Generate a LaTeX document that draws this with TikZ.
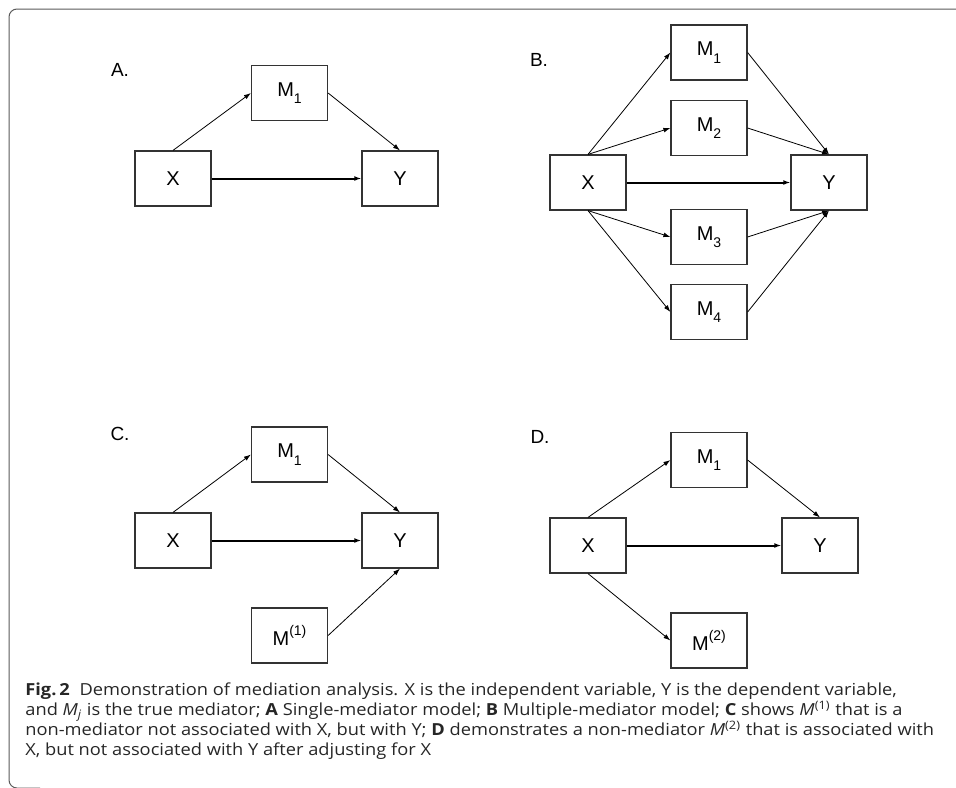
\documentclass[tikz,border=0pt]{standalone}
\usepackage{fontspec}
\setmainfont{Liberation Sans}
\newfontfamily\capfont[FakeStretch=1.1]{Open Sans}
\usetikzlibrary{arrows.meta}

\newcommand{\lowidx}[1]{\raisebox{-3.8pt}{\fontsize{7}{8}\selectfont #1}}
\newcommand{\highidx}[1]{\raisebox{5pt}{\fontsize{7}{8}\selectfont #1}}

\tikzset{
  varbox/.style={draw=black!80, line width=0.6pt, minimum width=38pt, minimum height=27.5pt, inner sep=0pt, font=\fontsize{10}{12}\selectfont},
  panel/.style={inner sep=0pt, font=\fontsize{9.5}{11}\selectfont},
  arr/.style={-{Latex[length=3.5pt,width=2.4pt]}, line width=0.4pt},
  direct/.style={-{Latex[length=3.5pt,width=2.4pt]}, line width=1pt},
  capline/.style={anchor=base west, inner sep=0pt, text=black!85, font=\capfont\fontsize{8.3}{10}\selectfont}
}

\begin{document}
\begin{tikzpicture}[x=0.5pt,y=-0.5pt]
\useasboundingbox (0,0) rectangle (956,787);

% frame
\draw[black!65, line width=0.5pt, rounded corners=4pt] (970,9) -- (9,9) -- (9,788) -- (40,788);

% A. single mediator
\node[panel] (labA) at (120,70) {A.};
\node[varbox] (aM) at (289.5,93) {M\lowidx{1}};
\node[varbox] (aX) at (173,178.5) {X};
\node[varbox] (aY) at (400,178.5) {Y};
\draw[arr] (aX.north) -- (aM.west);
\draw[arr] (aM.east) -- (aY.north);
\draw[direct] (aX) -- (aY);

% B. multiple mediators
\node[panel] (labB) at (539,60) {B.};
\node[varbox] (bX) at (588,182.5) {X};
\node[varbox] (bY) at (829,182.5) {Y};
\foreach \i/\y in {1/52.5,2/128,3/237,4/312}
  \node[varbox] (bM\i) at (709,\y) {M\lowidx{\i}};
\foreach \i in {1,2}{
  \draw[arr] (bX.north) -- (bM\i.west);
  \draw[arr] (bM\i.east) -- (bY.north);}
\foreach \i in {3,4}{
  \draw[arr] (bX.south) -- (bM\i.west);
  \draw[arr] (bM\i.east) -- (bY.south);}
\draw[direct] (bX) -- (bY);

% C. non-mediator on Y
\node[panel] (labC) at (120,434) {C.};
\node[varbox] (cM) at (289.5,454.5) {M\lowidx{1}};
\node[varbox] (cX) at (173,540.5) {X};
\node[varbox] (cY) at (400,540.5) {Y};
\node[varbox] (cN) at (289.5,635.5) {M\highidx{(1)}};
\draw[arr] (cX.north) -- (cM.west);
\draw[arr] (cM.east) -- (cY.north);
\draw[arr] (cN.east) -- (cY.south);
\draw[direct] (cX) -- (cY);

% D. non-mediator on X
\node[panel] (labD) at (540,437) {D.};
\node[varbox] (dM) at (709,460) {M\lowidx{1}};
\node[varbox] (dX) at (588,545.5) {X};
\node[varbox] (dY) at (820,545.5) {Y};
\node[varbox] (dN) at (709,640.5) {M\highidx{(2)}};
\draw[arr] (dX.north) -- (dM.west);
\draw[arr] (dM.east) -- (dY.north);
\draw[arr] (dX.south) -- (dN.west);
\draw[direct] (dX) -- (dY);

% caption
\node[capline] (cap1) at (25,695) {\textbf{Fig.\,2}\hspace{0.6em}Demonstration of mediation analysis. X is the independent variable, Y is the dependent variable,};
\node[capline] (cap2) at (25,715) {and \textit{M\textsubscript{j}} is the true mediator; \textbf{A} Single-mediator model; \textbf{B} Multiple-mediator model; \textbf{C} shows \textit{M}\textsuperscript{(1)} that is a};
\node[capline] (cap3) at (25,735) {non-mediator not associated with X, but with Y; \textbf{D} demonstrates a non-mediator \textit{M}\textsuperscript{(2)} that is associated with};
\node[capline] (cap4) at (25,755) {X, but not associated with Y after adjusting for X};
\end{tikzpicture}
\end{document}
